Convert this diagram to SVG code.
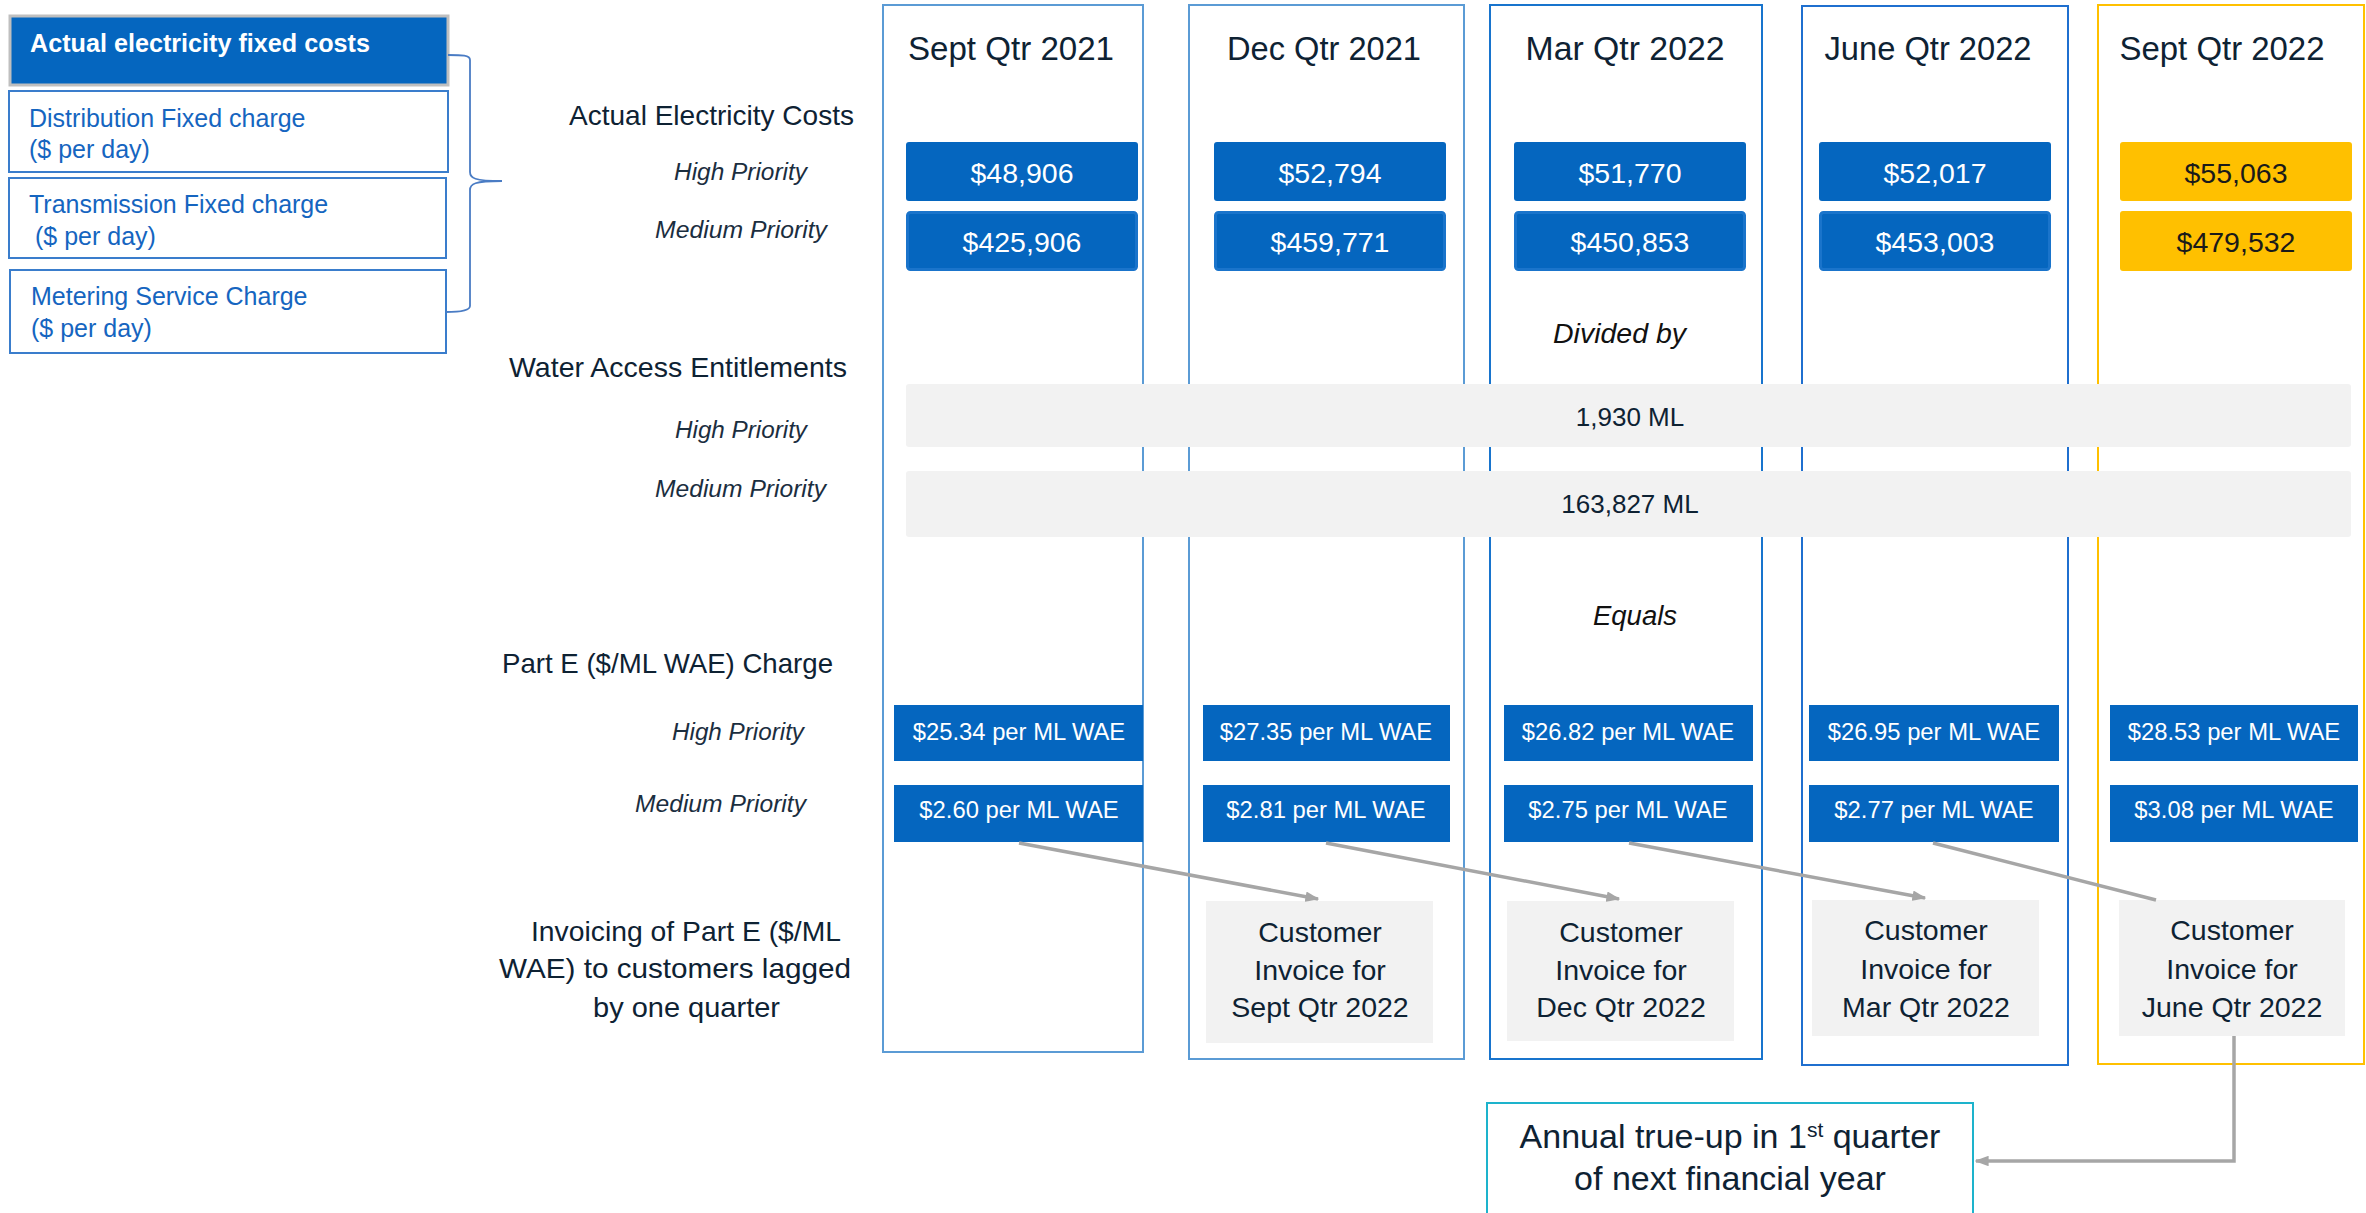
<svg xmlns="http://www.w3.org/2000/svg" width="2366" height="1213" viewBox="0 0 2366 1213">
<defs>
<marker id="arr" viewBox="0 0 4 3" refX="3.6" refY="1.5" markerWidth="4" markerHeight="3" orient="auto" markerUnits="strokeWidth">
<path d="M0,0 L4,1.5 L0,3 Z" fill="#A6A6A6"/>
</marker>
<style>
text{font-family:"Liberation Sans",Arial,sans-serif}
.colbox{fill:none;stroke-width:2}
.head{font-size:33px;fill:#0E2233;text-anchor:middle}
.label{font-size:28px;fill:#0E2233}
.pri{font-size:24.5px;font-style:italic;fill:#1B2E3F}
.vbox{fill:#0566BF}
.vbox2{fill:#0566BF;stroke:#1A74CB;stroke-width:3}
.ybox{fill:#FFC000}
.val{font-size:28.5px;fill:#FFFFFF;text-anchor:middle}
.valy{font-size:28.5px;fill:#1A1A1A;text-anchor:middle}
.gbox{fill:#F2F2F2}
.wae{font-size:26px;fill:#0E2233;text-anchor:middle}
.rate{font-size:23.8px;fill:#FFFFFF;text-anchor:middle}
.inv{font-size:28.5px;fill:#0E2233;text-anchor:middle}
.lbox{fill:#FFFFFF;stroke:#3A7DCC;stroke-width:2}
.ltext{font-size:25px;fill:#1565C0}
.conn{fill:none;stroke:#A6A6A6;stroke-width:3.5}
</style>
</defs>
<rect width="2366" height="1213" fill="#FFFFFF"/>

<!-- Left legend -->
<g id="fixed-costs-header">
<rect x="10" y="16" width="438" height="69" fill="#0566BF" stroke="#BFBFBF" stroke-width="3"/>
<text x="30" y="52" font-size="25" font-weight="bold" fill="#FFFFFF" textLength="340" lengthAdjust="spacingAndGlyphs">Actual electricity fixed costs</text>
</g>
<g id="distribution-charge">
<rect class="lbox" x="9" y="91" width="439" height="81"/>
<text class="ltext" x="29" y="127">Distribution Fixed charge</text>
<text class="ltext" x="29" y="158">($ per day)</text>
</g>
<g id="transmission-charge">
<rect class="lbox" x="9" y="178" width="437" height="80"/>
<text class="ltext" x="29" y="213">Transmission Fixed charge</text>
<text class="ltext" x="35" y="245">($ per day)</text>
</g>
<g id="metering-charge">
<rect class="lbox" x="10" y="270" width="436" height="83"/>
<text class="ltext" x="31" y="305">Metering Service Charge</text>
<text class="ltext" x="31" y="337">($ per day)</text>
</g>
<g id="brace">
<path d="M448,55 C462,55 470,55 470,60 L470,172 C470,178 474,181 502,181 C474,181 470,184 470,190 L470,306 C470,310 462,312 446,312" fill="none" stroke="#4A7CC4" stroke-width="1.8"/>
</g>

<!-- Row labels -->
<g id="row-labels">
<text class="label" x="569" y="125" textLength="285" lengthAdjust="spacingAndGlyphs">Actual Electricity Costs</text>
<text class="pri" x="674" y="180" textLength="133" lengthAdjust="spacingAndGlyphs">High Priority</text>
<text class="pri" x="655" y="238" textLength="172" lengthAdjust="spacingAndGlyphs">Medium Priority</text>
<text class="label" x="509" y="377" textLength="338" lengthAdjust="spacingAndGlyphs">Water Access Entitlements</text>
<text class="pri" x="675" y="438" textLength="132" lengthAdjust="spacingAndGlyphs">High Priority</text>
<text class="pri" x="655" y="497" textLength="171" lengthAdjust="spacingAndGlyphs">Medium Priority</text>
<text class="label" x="502" y="673" textLength="331" lengthAdjust="spacingAndGlyphs">Part E ($/ML WAE) Charge</text>
<text class="pri" x="672" y="740" textLength="132" lengthAdjust="spacingAndGlyphs">High Priority</text>
<text class="pri" x="635" y="812" textLength="171" lengthAdjust="spacingAndGlyphs">Medium Priority</text>
<text class="label" x="531" y="941" textLength="310" lengthAdjust="spacingAndGlyphs">Invoicing of Part E ($/ML</text>
<text class="label" x="499" y="978" textLength="352" lengthAdjust="spacingAndGlyphs">WAE) to customers lagged</text>
<text class="label" x="593" y="1017" textLength="187" lengthAdjust="spacingAndGlyphs">by one quarter</text>
</g>

<!-- Quarter columns -->
<g id="col-sept-2021">
<rect class="colbox" x="883" y="5" width="260" height="1047" stroke="#5B9BD5"/>
<text class="head" x="1011" y="60" textLength="206" lengthAdjust="spacingAndGlyphs">Sept Qtr 2021</text>
</g>
<g id="col-dec-2021">
<rect class="colbox" x="1189" y="5" width="275" height="1054" stroke="#5B9BD5"/>
<text class="head" x="1324" y="60" textLength="194" lengthAdjust="spacingAndGlyphs">Dec Qtr 2021</text>
</g>
<g id="col-mar-2022">
<rect class="colbox" x="1490" y="5" width="272" height="1054" stroke="#1874CD"/>
<text class="head" x="1625" y="60" textLength="199" lengthAdjust="spacingAndGlyphs">Mar Qtr 2022</text>
</g>
<g id="col-june-2022">
<rect class="colbox" x="1802" y="6" width="266" height="1059" stroke="#1F6FCF"/>
<text class="head" x="1928" y="60" textLength="207" lengthAdjust="spacingAndGlyphs">June Qtr 2022</text>
</g>
<g id="col-sept-2022">
<rect class="colbox" x="2098" y="5" width="266" height="1059" stroke="#FFC000"/>
<text class="head" x="2222" y="60" textLength="205" lengthAdjust="spacingAndGlyphs">Sept Qtr 2022</text>
</g>

<!-- Actual electricity costs values -->
<g id="cost-sept-2021">
<rect class="vbox" x="906" y="142" width="232" height="59" rx="3"/>
<text class="val" x="1022" y="183">$48,906</text>
<rect class="vbox2" x="907.5" y="212.5" width="229" height="57" rx="3"/>
<text class="val" x="1022" y="252">$425,906</text>
</g>
<g id="cost-dec-2021">
<rect class="vbox" x="1214" y="142" width="232" height="59" rx="3"/>
<text class="val" x="1330" y="183">$52,794</text>
<rect class="vbox2" x="1215.5" y="212.5" width="229" height="57" rx="3"/>
<text class="val" x="1330" y="252">$459,771</text>
</g>
<g id="cost-mar-2022">
<rect class="vbox" x="1514" y="142" width="232" height="59" rx="3"/>
<text class="val" x="1630" y="183">$51,770</text>
<rect class="vbox2" x="1515.5" y="212.5" width="229" height="57" rx="3"/>
<text class="val" x="1630" y="252">$450,853</text>
</g>
<g id="cost-june-2022">
<rect class="vbox" x="1819" y="142" width="232" height="59" rx="3"/>
<text class="val" x="1935" y="183">$52,017</text>
<rect class="vbox2" x="1820.5" y="212.5" width="229" height="57" rx="3"/>
<text class="val" x="1935" y="252">$453,003</text>
</g>
<g id="cost-sept-2022">
<rect class="ybox" x="2120" y="142" width="232" height="59" rx="3"/>
<text class="valy" x="2236" y="183">$55,063</text>
<rect class="ybox" x="2120" y="211" width="232" height="60" rx="3"/>
<text class="valy" x="2236" y="252">$479,532</text>
</g>

<!-- Divided by / WAE -->
<g id="divided-by">
<text x="1553" y="343" font-size="27" font-style="italic" fill="#111111" textLength="133" lengthAdjust="spacingAndGlyphs">Divided by</text>
</g>
<g id="wae-high">
<rect class="gbox" x="906" y="384" width="1445" height="63" rx="3"/>
<text class="wae" x="1630" y="426">1,930 ML</text>
</g>
<g id="wae-medium">
<rect class="gbox" x="906" y="471" width="1445" height="66" rx="3"/>
<text class="wae" x="1630" y="513">163,827 ML</text>
</g>
<g id="equals">
<text x="1593" y="625" font-size="27" font-style="italic" fill="#111111" textLength="84" lengthAdjust="spacingAndGlyphs">Equals</text>
</g>

<!-- Part E rates -->
<g id="rate-sept-2021">
<rect class="vbox" x="894" y="705" width="249" height="56"/>
<text class="rate" x="1019" y="740">$25.34 per ML WAE</text>
<rect class="vbox" x="894" y="785" width="249" height="57"/>
<text class="rate" x="1019" y="818">$2.60 per ML WAE</text>
</g>
<g id="rate-dec-2021">
<rect class="vbox" x="1203" y="705" width="247" height="56"/>
<text class="rate" x="1326" y="740">$27.35 per ML WAE</text>
<rect class="vbox" x="1203" y="785" width="247" height="57"/>
<text class="rate" x="1326" y="818">$2.81 per ML WAE</text>
</g>
<g id="rate-mar-2022">
<rect class="vbox" x="1504" y="705" width="249" height="56"/>
<text class="rate" x="1628" y="740">$26.82 per ML WAE</text>
<rect class="vbox" x="1504" y="785" width="249" height="57"/>
<text class="rate" x="1628" y="818">$2.75 per ML WAE</text>
</g>
<g id="rate-june-2022">
<rect class="vbox" x="1809" y="705" width="250" height="56"/>
<text class="rate" x="1934" y="740">$26.95 per ML WAE</text>
<rect class="vbox" x="1809" y="785" width="250" height="57"/>
<text class="rate" x="1934" y="818">$2.77 per ML WAE</text>
</g>
<g id="rate-sept-2022">
<rect class="vbox" x="2110" y="705" width="248" height="56"/>
<text class="rate" x="2234" y="740">$28.53 per ML WAE</text>
<rect class="vbox" x="2110" y="785" width="248" height="57"/>
<text class="rate" x="2234" y="818">$3.08 per ML WAE</text>
</g>

<!-- Invoices -->
<g id="invoice-sept-2022">
<rect class="gbox" x="1206" y="901" width="227" height="142"/>
<text class="inv" x="1320" y="942">Customer</text>
<text class="inv" x="1320" y="980">Invoice for</text>
<text class="inv" x="1320" y="1017">Sept Qtr 2022</text>
</g>
<g id="invoice-dec-2022">
<rect class="gbox" x="1507" y="901" width="227" height="140"/>
<text class="inv" x="1621" y="942">Customer</text>
<text class="inv" x="1621" y="980">Invoice for</text>
<text class="inv" x="1621" y="1017">Dec Qtr 2022</text>
</g>
<g id="invoice-mar-2022">
<rect class="gbox" x="1812" y="900" width="227" height="136"/>
<text class="inv" x="1926" y="940">Customer</text>
<text class="inv" x="1926" y="979">Invoice for</text>
<text class="inv" x="1926" y="1017">Mar Qtr 2022</text>
</g>
<g id="invoice-june-2022">
<rect class="gbox" x="2119" y="900" width="226" height="136"/>
<text class="inv" x="2232" y="940">Customer</text>
<text class="inv" x="2232" y="979">Invoice for</text>
<text class="inv" x="2232" y="1017">June Qtr 2022</text>
</g>

<!-- Annual true-up -->
<g id="annual-true-up">
<rect x="1487" y="1103" width="486" height="130" fill="#FFFFFF" stroke="#1DB3CC" stroke-width="2"/>
<text x="1730" y="1148" font-size="34" fill="#0E2233" text-anchor="middle">Annual true-up in 1<tspan font-size="21" baseline-shift="super">st</tspan> quarter</text>
<text x="1730" y="1190" font-size="34" fill="#0E2233" text-anchor="middle">of next financial year</text>
</g>

<!-- Connectors -->
<g id="connectors">
<line class="conn" x1="1019" y1="843" x2="1318" y2="899" marker-end="url(#arr)"/>
<line class="conn" x1="1326" y1="843" x2="1619" y2="899" marker-end="url(#arr)"/>
<line class="conn" x1="1629" y1="843" x2="1925" y2="898" marker-end="url(#arr)"/>
<line class="conn" x1="1933" y1="843" x2="2156" y2="900"/>
<polyline class="conn" points="2234,1036 2234,1161 1976,1161" marker-end="url(#arr)"/>
</g>
</svg>
